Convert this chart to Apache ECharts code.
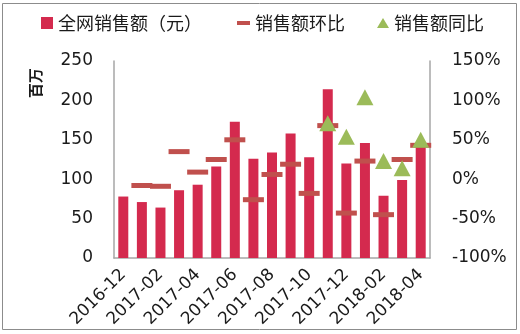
<!DOCTYPE html>
<html>
<head>
<meta charset="utf-8">
<script src="https://cdn.jsdelivr.net/npm/echarts@6/dist/echarts.min.js"></script>
<style>html,body{margin:0;padding:0;background:#fff}#c{width:520px;height:334px}</style>
</head>
<body>
<div id="c"></div>
<script>
var categories = ['2016-12','2017-01','2017-02','2017-03','2017-04','2017-05','2017-06','2017-07','2017-08','2017-09','2017-10','2017-11','2017-12','2018-01','2018-02','2018-03','2018-04'];
var salesValues = [78, 71, 64, 86, 93, 116, 173, 126, 134, 158, 128, 214, 120, 146, 79, 99, 144];
var momValues = [null, -8, -9, 35, 9, 25, 50, -26, 6, 19, -18, 68, -43, 23, -45, 25, 43];
var yoyValues = [null, null, null, null, null, null, null, null, null, null, null, 71, 54, 104, 23, 14, 50];
var leftTicks = [0, 50, 100, 150, 200, 250];
var rightTicks = [-100, -50, 0, 50, 100, 150];
var seriesNames = ['全网销售额（元）', '销售额环比', '销售额同比'];

var chart = echarts.init(document.getElementById('c'), null, {renderer: 'canvas'});
var txt = '#1a1a1a';
var axisFont = 'DejaVu Sans';
var cjk = 'Noto Sans CJK SC';
var legendText = {fontFamily: cjk, fontSize: 18, color: txt};
chart.setOption({
  animation: false,
  backgroundColor: '#fff',
  grid: {left: 114, right: 90, top: 61, bottom: 76, containLabel: false},
  legend: [
    {data: [{name: seriesNames[0], icon: 'rect'}], left: 36, top: 9, itemWidth: 12, itemHeight: 12, textStyle: legendText, selectedMode: false},
    {data: [{name: seriesNames[1], icon: 'rect'}], left: 232, top: 9, itemWidth: 13, itemHeight: 4, textStyle: legendText, selectedMode: false},
    {data: [{name: seriesNames[2], icon: 'triangle'}], left: 372, top: 9, itemWidth: 12, itemHeight: 10, textStyle: legendText, selectedMode: false}
  ],
  xAxis: {
    type: 'category', data: categories, boundaryGap: true,
    axisLine: {lineStyle: {color: '#A6A6A6', width: 1.5}},
    axisTick: {show: false},
    axisLabel: {interval: 1, rotate: 45, margin: 14, fontFamily: axisFont, fontSize: 17, color: txt}
  },
  yAxis: [
    {type: 'value', min: leftTicks[0], max: leftTicks[leftTicks.length-1], interval: 50,
     splitLine: {show: false},
     axisLine: {show: true, lineStyle: {color: '#A6A6A6', width: 1.5}},
     axisTick: {show: false},
     axisLabel: {margin: 21, fontFamily: axisFont, fontSize: 17, color: txt}},
    {type: 'value', min: rightTicks[0], max: rightTicks[rightTicks.length-1], interval: 50, position: 'right',
     splitLine: {show: false},
     axisLine: {show: true, lineStyle: {color: '#A6A6A6', width: 1.5}},
     axisTick: {show: false},
     axisLabel: {margin: 22, formatter: '{value}%', fontFamily: axisFont, fontSize: 17, color: txt}}
  ],
  series: [
    {name: seriesNames[0], type: 'bar', data: salesValues, barWidth: 10, itemStyle: {color: '#D42A4E'}},
    {name: seriesNames[1], type: 'scatter', yAxisIndex: 1, data: momValues, symbol: 'rect', symbolSize: [21, 5], itemStyle: {color: '#C0504D', opacity: 1}},
    {name: seriesNames[2], type: 'scatter', yAxisIndex: 1, data: yoyValues, symbol: 'triangle', symbolSize: [17, 16], itemStyle: {color: '#9BBB59', opacity: 1}}
  ],
  graphic: [
    {type: 'rect', shape: {x: 2.5, y: 3.5, width: 514, height: 326}, style: {fill: null, stroke: '#8C8C8C', lineWidth: 1}, silent: true},
    {type: 'text', x: 28, y: 98, rotation: Math.PI / 2, style: {text: '百万', font: 'bold 15px "Noto Sans CJK SC"', fill: txt}}
  ]
});
</script>
</body>
</html>
